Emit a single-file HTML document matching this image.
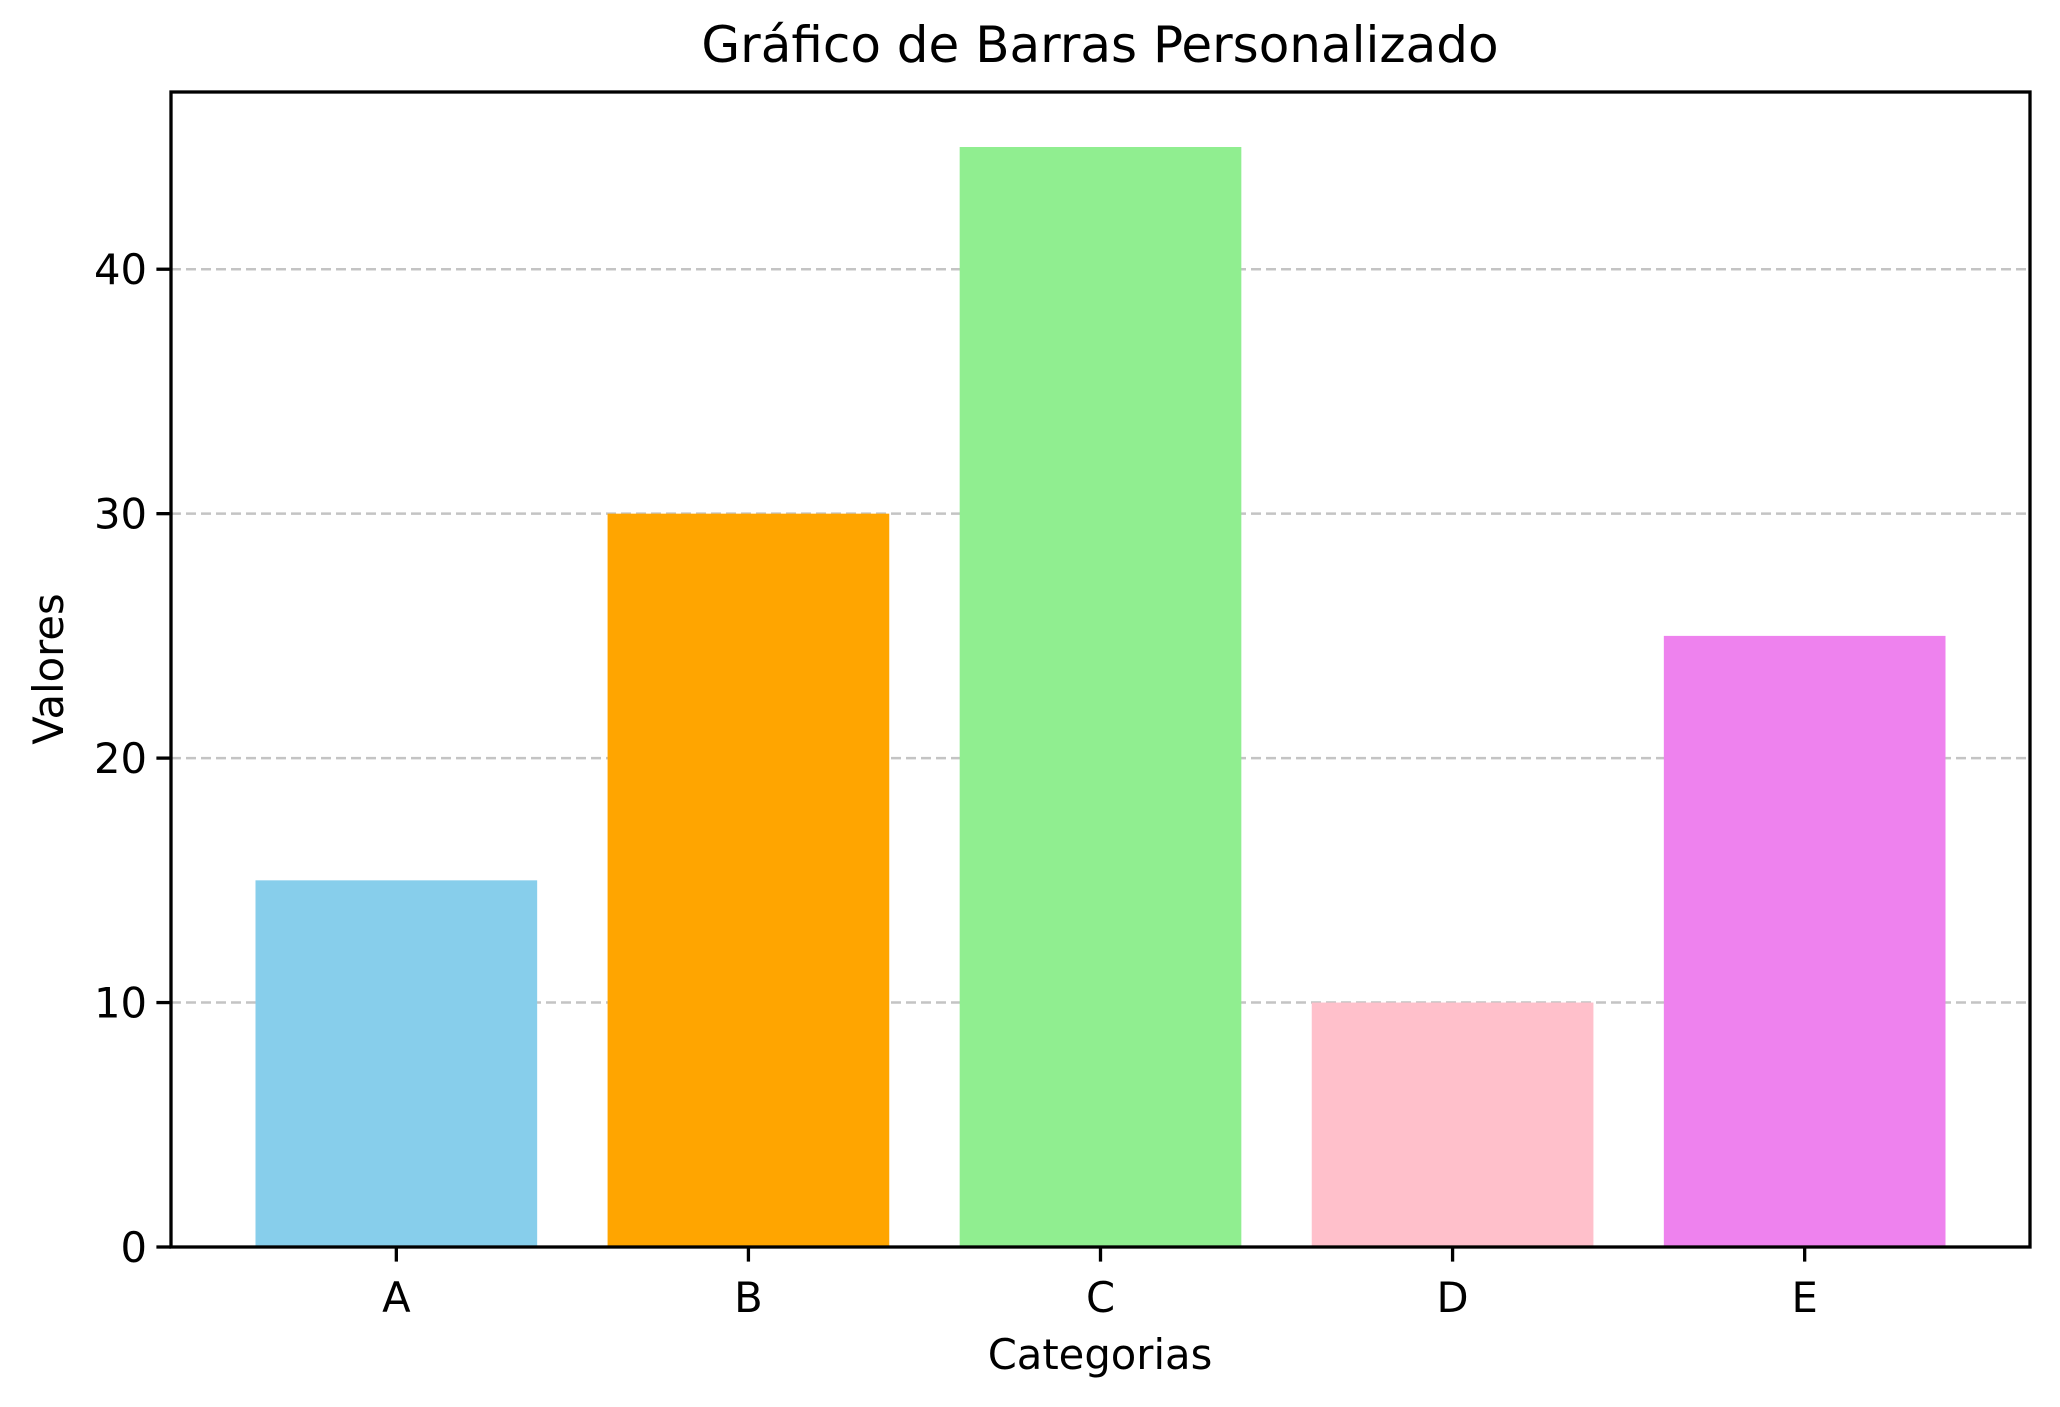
<!DOCTYPE html>
<html><head><meta charset="utf-8"><style>
html,body{margin:0;padding:0;background:#fff;}
svg{display:block;}
text{font-family:"DejaVu Sans","Liberation Sans",sans-serif;fill:#000;}
</style></head><body>
<svg id="chart" width="2060" height="1407" viewBox="0 0 2060 1407" xmlns="http://www.w3.org/2000/svg">
<rect width="2060" height="1407" fill="#fff"/>
<text x="1100" y="62" font-size="50" text-anchor="middle">Gráfico de Barras Personalizado</text>
<g id="grid"></g>
<g id="bars"></g>
<g id="axes"></g>
<text x="1100" y="1369" font-size="41.7" text-anchor="middle">Categorias</text>
<text x="0" y="0" font-size="41.7" text-anchor="middle" transform="translate(63,669) rotate(-90)">Valores</text>
</svg>
<script>
const categories = ["A","B","C","D","E"];
const values = [15,30,45,10,25];
const colors = ["#87ceeb","#ffa500","#90ee90","#ffc0cb","#ee82ee"];
const yTicks = [0,10,20,30,40];

const L=171,R=2030,T=92,B=1247;
const xMin=-0.64,xMax=4.64,yMin=0,yMax=Math.max(...values)*1.05;
const xs=v=>L+(v-xMin)/(xMax-xMin)*(R-L);
const ys=v=>B-(v-yMin)/(yMax-yMin)*(B-T);
const NS="http://www.w3.org/2000/svg";
function mk(tag,attrs,parent){const e=document.createElementNS(NS,tag);for(const k in attrs)e.setAttribute(k,attrs[k]);parent.appendChild(e);return e;}
const grid=document.getElementById('grid'),bars=document.getElementById('bars'),axes=document.getElementById('axes');
yTicks.forEach(t=>{
  if(t>0){
    const g=mk('line',{x1:L,x2:R,y1:ys(t),y2:ys(t),stroke:'#c4c4c4','stroke-width':2.5,'stroke-dasharray':'10 5'},grid);
    
    
  }
  const tk=mk('line',{x1:L-14.6,x2:L,y1:ys(t),y2:ys(t),stroke:'#000','stroke-width':3.3},axes);
  
  
  const lb=mk('text',{x:L-24,y:ys(t)+15,'font-size':41.7,'text-anchor':'end'},axes);
  lb.textContent=t;
  
  
});
categories.forEach((c,i)=>{
  const b=mk('rect',{x:xs(i-0.4),y:ys(values[i]),width:xs(i+0.4)-xs(i-0.4),height:ys(0)-ys(values[i]),fill:colors[i]},bars);
  
  
  const tk=mk('line',{x1:xs(i),x2:xs(i),y1:B,y2:B+14.6,stroke:'#000','stroke-width':3.3},axes);
  
  
  const lb=mk('text',{x:xs(i),y:B+65,'font-size':41.7,'text-anchor':'middle'},axes);
  lb.textContent=c;
  
  
});
const frame=mk('rect',{x:L,y:T,width:R-L,height:B-T,fill:'none',stroke:'#000','stroke-width':3.3},axes);


</script>
</body></html>
